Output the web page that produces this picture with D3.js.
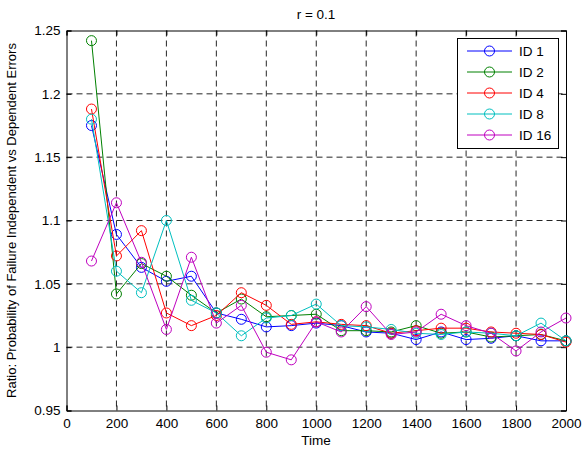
<!DOCTYPE html>
<html>
<head>
<meta charset="utf-8">
<script src="https://cdn.jsdelivr.net/npm/d3@7"></script>
<style>
  body { margin: 0; background: #fff; }
  text { font-family: "Liberation Sans", Arial, sans-serif; }
</style>
</head>
<body>
<svg id="chart" width="583" height="450"></svg>
<script>
// data
var times = [100, 200, 300, 400, 500, 600, 700, 800, 900, 1000,
             1100, 1200, 1300, 1400, 1500, 1600, 1700, 1800, 1900, 2000];
var id1  = [1.175, 1.089, 1.063, 1.052, 1.056, 1.027, 1.022, 1.016, 1.017, 1.019,
            1.017, 1.012, 1.011, 1.006, 1.012, 1.006, 1.007, 1.009, 1.005, 1.005];
var id2  = [1.242, 1.042, 1.066, 1.056, 1.041, 1.027, 1.038, 1.024, 1.025, 1.026,
            1.013, 1.013, 1.012, 1.017, 1.011, 1.012, 1.008, 1.009, 1.010, 1.005];
var id4  = [1.188, 1.072, 1.092, 1.027, 1.017, 1.025, 1.043, 1.033, 1.018, 1.020,
            1.018, 1.017, 1.011, 1.013, 1.015, 1.015, 1.012, 1.011, 1.010, 1.004];
var id8  = [1.180, 1.060, 1.043, 1.100, 1.037, 1.027, 1.009, 1.023, 1.025, 1.034,
            1.017, 1.016, 1.014, 1.011, 1.010, 1.012, 1.011, 1.009, 1.019, 1.005];
var id16 = [1.068, 1.114, 1.067, 1.014, 1.071, 1.019, 1.033, 0.996, 0.990, 1.020,
            1.012, 1.032, 1.010, 1.012, 1.026, 1.017, 1.011, 0.997, 1.012, 1.023];
var seriesNames = ["ID 1", "ID 2", "ID 4", "ID 8", "ID 16"];
var seriesColors = ["#0000ff", "#008000", "#ff0000", "#00bfbf", "#bf00bf"];
var xTicks = [0, 200, 400, 600, 800, 1000, 1200, 1400, 1600, 1800, 2000];
var yTicks = [0.95, 1, 1.05, 1.1, 1.15, 1.2, 1.25];

var allSeries = [id1, id2, id4, id8, id16];

var svg = d3.select("#chart");
var plotL = 66.5, plotR = 566, plotT = 30.5, plotB = 410.5;

var x = d3.scaleLinear().domain([0, 2000]).range([plotL, plotR]);
var y = d3.scaleLinear().domain([0.95, 1.25]).range([plotB, plotT]);

// grid
var grid = svg.append("g").attr("stroke", "#000").attr("stroke-width", 1)
    .attr("stroke-dasharray", "6,4").attr("opacity", 0.85);
xTicks.slice(1, -1).forEach(function (t) {
    grid.append("line").attr("x1", x(t)).attr("x2", x(t)).attr("y1", plotT).attr("y2", plotB);
});
yTicks.slice(1, -1).forEach(function (t) {
    grid.append("line").attr("x1", plotL).attr("x2", plotR).attr("y1", y(t)).attr("y2", y(t));
});

// axes (ticks inward, on all four sides)
var fmt = function (d) { return String(+d.toFixed(2)); };
svg.append("g").attr("transform", "translate(0," + plotB + ")")
    .call(d3.axisBottom(x).tickValues(xTicks).tickSize(-5).tickPadding(8).tickFormat(d3.format("d")));
svg.append("g").attr("transform", "translate(0," + plotT + ")")
    .call(d3.axisTop(x).tickValues(xTicks).tickSize(-5).tickFormat(""));
svg.append("g").attr("transform", "translate(" + plotL + ",0)")
    .call(d3.axisLeft(y).tickValues(yTicks).tickSize(-5).tickPadding(6).tickFormat(fmt));
svg.append("g").attr("transform", "translate(" + plotR + ",0)")
    .call(d3.axisRight(y).tickValues(yTicks).tickSize(-5).tickFormat(""));
svg.selectAll(".domain").attr("stroke", "#000");
svg.selectAll(".tick line").attr("stroke", "#000");
svg.selectAll(".tick text").attr("font-size", 13.5).attr("fill", "#000")
    .attr("font-family", "'Liberation Sans', Arial, sans-serif");

// series
var line = d3.line().x(function (d, i) { return x(times[i]); }).y(function (d) { return y(d); });
allSeries.forEach(function (s, k) {
    svg.append("path").datum(s).attr("d", line).attr("fill", "none")
        .attr("stroke", seriesColors[k]).attr("stroke-width", 1);
    svg.append("g").selectAll("circle").data(s).enter().append("circle")
        .attr("cx", function (d, i) { return x(times[i]); })
        .attr("cy", function (d) { return y(d); })
        .attr("r", 5).attr("fill", "none").attr("stroke", seriesColors[k]).attr("stroke-width", 1);
});

// legend
var lg = svg.append("g");
lg.append("rect").attr("x", 457.5).attr("y", 38.5).attr("width", 101).attr("height", 110)
    .attr("fill", "#fff").attr("stroke", "#000");
seriesNames.forEach(function (name, k) {
    var ly = 51 + k * 21;
    lg.append("line").attr("x1", 467).attr("x2", 512).attr("y1", ly).attr("y2", ly)
        .attr("stroke", seriesColors[k]);
    lg.append("circle").attr("cx", 489.5).attr("cy", ly).attr("r", 5)
        .attr("fill", "none").attr("stroke", seriesColors[k]);
    lg.append("text").attr("x", 519).attr("y", ly + 5).attr("font-size", 13.5).text(name);
});

// labels
svg.append("text").attr("x", 316).attr("y", 19).attr("text-anchor", "middle")
    .attr("font-size", 13.5).text("r = 0.1");
svg.append("text").attr("x", 316).attr("y", 445).attr("text-anchor", "middle")
    .attr("font-size", 13.5).text("Time");
svg.append("text").attr("transform", "translate(16," + ((plotT + plotB) / 2) + ") rotate(-90)")
    .attr("text-anchor", "middle").attr("font-size", 13)
    .text("Ratio: Probability of Failure Independent vs Dependent Errors");
</script>
</body>
</html>
